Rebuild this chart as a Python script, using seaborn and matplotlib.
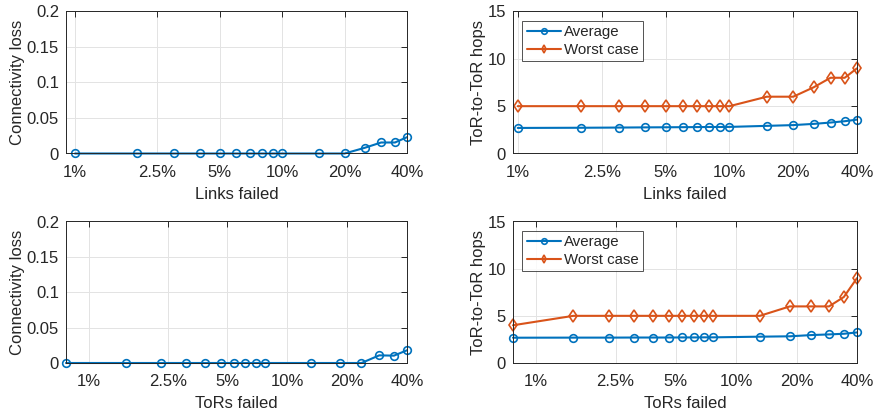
import numpy as np
import pandas as pd
import matplotlib
matplotlib.use("Agg")
import matplotlib.pyplot as plt
import seaborn as sns

# data (x in percent)
links_failed = [1, 2, 3, 4, 5, 6, 7, 8, 9, 10, 15, 20, 25, 30, 35, 40]
links_conn_loss = [0, 0, 0, 0, 0, 0, 0, 0, 0, 0, 0, 0, 0.008, 0.0155, 0.0155, 0.023]
links_hops_avg = [2.70, 2.72, 2.74, 2.76, 2.77, 2.78, 2.79, 2.80, 2.80, 2.81,
                  2.92, 3.00, 3.13, 3.27, 3.41, 3.58]
links_hops_worst = [5, 5, 5, 5, 5, 5, 5, 5, 5, 5, 6, 6, 7, 8, 8, 9]

tors_failed = [0.77, 1.54, 2.31, 3.08, 3.85, 4.62, 5.38, 6.15, 6.92, 7.69,
               13.1, 18.5, 23.6, 29.0, 34.4, 40]
tors_conn_loss = [0, 0, 0, 0, 0, 0, 0, 0, 0, 0, 0, 0, 0, 0.0108, 0.0104, 0.018]
tors_hops_avg = [2.68, 2.69, 2.69, 2.70, 2.70, 2.70, 2.71, 2.71, 2.72, 2.72,
                 2.79, 2.83, 2.96, 3.03, 3.10, 3.24]
tors_hops_worst = [4, 5, 5, 5, 5, 5, 5, 5, 5, 5, 5, 6, 6, 6, 7, 9]

x_ticks = [1, 2.5, 5, 10, 20, 40]
x_ticklabels = ["1%", "2.5%", "5%", "10%", "20%", "40%"]

blue = "#0072BD"
orange = "#D95319"
FS = 12

sns.set_style("white")
plt.rcParams["font.family"] = ["Liberation Sans", "DejaVu Sans"]
plt.rcParams["font.size"] = FS
plt.rcParams["axes.edgecolor"] = "#262626"
plt.rcParams["text.color"] = "#262626"

fig = plt.figure(figsize=(8.73, 4.11), dpi=100)
W, H = 873, 411
def add_ax(l, t, r, b):
    return fig.add_axes([l / W, 1 - b / H, (r - l) / W, (b - t) / H])

ax_tl = add_ax(66, 11.5, 407, 153.5)
ax_tr = add_ax(513, 11.5, 857, 153.5)
ax_bl = add_ax(66, 221.5, 407, 363)
ax_br = add_ax(513, 221.5, 857, 363)

def xlim_of(x):
    lo = 0.905 if x[0] >= 1 else x[0]
    return lo, 40

def style_axis(ax, xlim, ylim, yticks, yticklabels, xlabel, ylabel):
    ax.set_xscale("log")
    ax.set_xlim(*xlim)
    ax.set_ylim(*ylim)
    ax.set_xticks(x_ticks)
    ax.set_xticklabels(x_ticklabels)
    ax.xaxis.set_minor_locator(matplotlib.ticker.NullLocator())
    ax.set_yticks(yticks)
    ax.set_yticklabels(yticklabels)
    ax.grid(True, color="#e3e3e3", linewidth=0.7)
    ax.set_axisbelow(True)
    for s in ax.spines.values():
        s.set_visible(True)
        s.set_linewidth(0.7)
    ax.tick_params(direction="in", length=4, width=0.7, top=True, right=True,
                   labelsize=FS, colors="#262626", pad=5)
    ax.tick_params(axis="x", pad=8)
    ax.set_xlabel(xlabel, fontsize=FS, labelpad=5)
    ax.set_ylabel(ylabel, fontsize=FS, labelpad=1)

line_kw = dict(linewidth=1.5, markerfacecolor="none", markeredgewidth=1.2,
               clip_on=False)

def conn_plot(ax, x, y, xlabel):
    df = pd.DataFrame({"x": x, "y": y})
    sns.lineplot(data=df, x="x", y="y", ax=ax, color=blue, marker="o",
                 markersize=5.5, markeredgecolor=blue, **line_kw)
    style_axis(ax, xlim_of(x), (0, 0.2), [0, 0.05, 0.1, 0.15, 0.2],
               ["0", "0.05", "0.1", "0.15", "0.2"], xlabel, "Connectivity loss")

def hops_plot(ax, x, avg, worst, xlabel):
    df = pd.DataFrame({"x": x + x, "y": avg + worst,
                       "kind": ["Average"] * len(x) + ["Worst case"] * len(x)})
    sns.lineplot(data=df[df.kind == "Average"], x="x", y="y", ax=ax, color=blue,
                 marker="o", markersize=5.5, markeredgecolor=blue,
                 label="Average", **line_kw)
    sns.lineplot(data=df[df.kind == "Worst case"], x="x", y="y", ax=ax,
                 color=orange, marker="d", markersize=6, markeredgecolor=orange,
                 label="Worst case", **line_kw)
    style_axis(ax, xlim_of(x), (0, 15), [0, 5, 10, 15], ["0", "5", "10", "15"],
               xlabel, "ToR-to-ToR hops")
    leg = ax.legend(loc="upper left", bbox_to_anchor=(0.027, 0.935), frameon=True,
                    fancybox=False, edgecolor="#262626", fontsize=10.8,
                    handlelength=2.3, handletextpad=0.15, borderpad=0.3,
                    labelspacing=0.25, borderaxespad=0)
    leg.get_frame().set_linewidth(0.7)
    for h in leg.legend_handles:
        h.set_markersize(4)

conn_plot(ax_tl, links_failed, links_conn_loss, "Links failed")
hops_plot(ax_tr, links_failed, links_hops_avg, links_hops_worst, "Links failed")
conn_plot(ax_bl, tors_failed, tors_conn_loss, "ToRs failed")
hops_plot(ax_br, tors_failed, tors_hops_avg, tors_hops_worst, "ToRs failed")

ax_tr.set_xlim(0.95, 40)

fig.savefig("out.png", dpi=100)
